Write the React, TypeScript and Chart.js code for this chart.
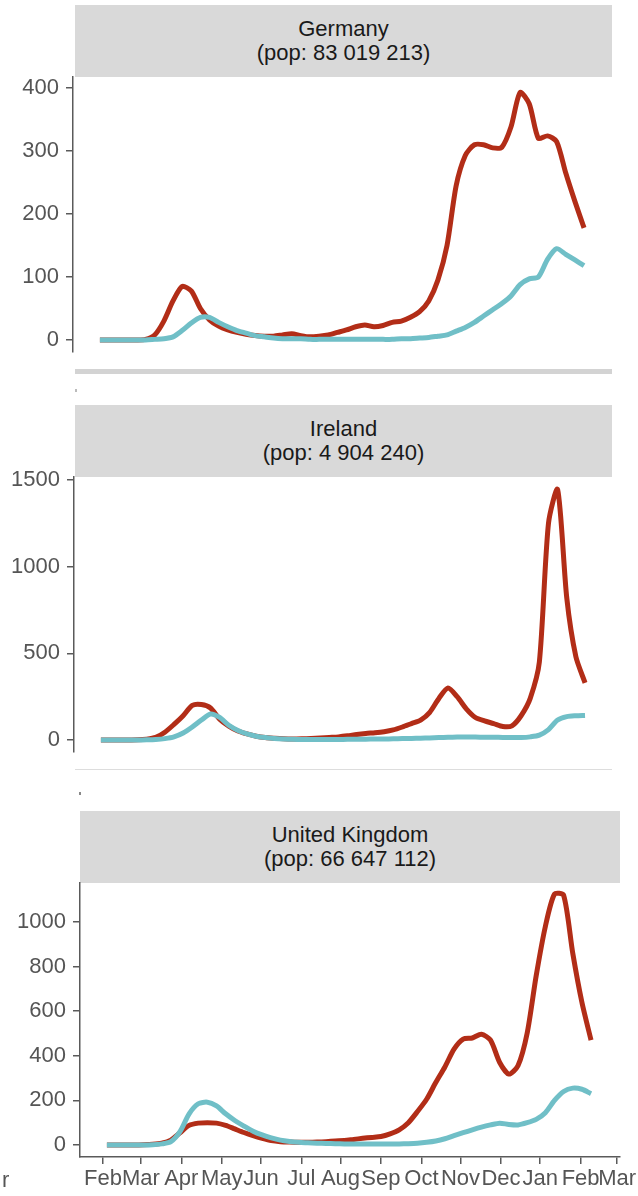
import React, { useEffect, useRef } from "react";
import { Chart, registerables } from "chart.js";

Chart.register(...registerables);

// days since 2020-02-01 of each weekly observation
const weekDays = [
  3, 10, 17, 24, 31, 38, 45, 52, 59, 66, 73, 80, 87, 94, 101, 108, 115, 122,
  129, 136, 143, 150, 157, 164, 171, 178, 185, 192, 199, 206, 213, 220, 227,
  234, 241, 248, 255, 262, 269, 276, 283, 290, 297, 304, 311, 318, 325, 332,
  339, 346, 353, 360, 367, 374,
];

// month starts (days since 2020-02-01) and their labels
const monthTickDays = [0, 29, 60, 91, 121, 152, 182, 213, 244, 274, 305, 335, 366, 394];
const monthLabels = ["Feb", "Mar", "Apr", "May", "Jun", "Jul", "Aug", "Sep", "Oct", "Nov", "Dec", "Jan", "Feb", "Mar"];

const germanyTicks = [0, 100, 200, 300, 400];
const irelandTicks = [0, 500, 1000, 1500];
const ukTicks = [0, 200, 400, 600, 800, 1000];

const germanyRed = [
  0, 0, 0, 0, 0, 1, 8, 30, 62, 85, 78, 50, 32, 22, 16, 12, 9, 7, 6, 6, 8, 10,
  7, 5, 6, 8, 12, 16, 21, 24, 21, 23, 28, 30, 36, 45, 62, 95, 150, 245, 293,
  310, 310, 305, 306, 338, 393, 375, 320, 324, 315, 265, 220, 178,
];
const germanyTeal = [
  0, 0, 0, 0, 0, 0, 1, 2, 5, 15, 27, 36, 36, 28, 21, 15, 11, 7, 5, 3, 2, 2, 2,
  1, 1, 1, 1, 1, 1, 1, 1, 1, 1, 2, 2, 3, 4, 6, 8, 14, 20, 28, 38, 48, 58, 70,
  88, 97, 100, 128, 145, 136, 127, 118,
];

const irelandRed = [
  0, 0, 0, 0, 1, 5, 15, 45, 90, 140, 200, 205, 185, 120, 80, 52, 35, 22, 14,
  10, 7, 6, 7, 9, 12, 15, 18, 24, 32, 38, 42, 48, 58, 75, 95, 115, 160, 240,
  300, 250, 180, 130, 110, 95, 78, 82, 140, 240, 450, 1250, 1445, 820, 480, 330,
];
const irelandTeal = [
  0, 0, 0, 0, 0, 1, 3, 8, 18, 40, 75, 115, 150, 130, 85, 55, 35, 22, 14, 9, 6,
  4, 3, 3, 3, 3, 3, 4, 4, 5, 6, 6, 7, 8, 9, 10, 12, 14, 16, 17, 17, 17, 16, 16,
  15, 14, 14, 18, 28, 60, 115, 135, 140, 142,
];

const ukRed = [
  0, 0, 0, 0, 1, 3, 8, 22, 55, 88, 98, 100, 98, 88, 72, 56, 42, 30, 20, 15, 13,
  12, 12, 13, 15, 18, 20, 25, 30, 34, 38, 50, 68, 100, 150, 205, 280, 350, 430,
  475, 480, 497, 470, 370, 318, 355, 500, 760, 980, 1125, 1120, 860, 640, 470,
];
const ukTeal = [
  0, 0, 0, 0, 0, 1, 5, 15, 60, 140, 185, 192, 175, 140, 110, 85, 62, 45, 32,
  22, 16, 12, 10, 8, 7, 6, 5, 5, 5, 5, 5, 5, 5, 6, 8, 12, 18, 28, 42, 55, 68,
  80, 90, 98, 92, 90, 100, 115, 145, 200, 240, 255, 250, 230,
];

const RED = "#B22D17";
const TEAL = "#70BFC7";
const AXIS = "#5a5a5a";
const TICK_TEXT = "#555555";
const FONT = "'Liberation Sans', Arial, Helvetica, sans-serif";
const TICK_SIZE = 22;
const STRIP_SIZE = 22;

const X_MIN = -17.62;
const X_MAX = 396.2;

type PanelProps = {
  areaTop: number;
  areaBottom: number;
  areaLeft: number;
  areaRight: number;
  yMin: number;
  yMax: number;
  yTicks: number[];
  red: number[];
  teal: number[];
  showX: boolean;
};

const PAD_TOP = 16;
const PAD_BOTTOM_NOX = 16;
const X_AXIS_H = 39;

function Panel(p: PanelProps) {
  const ref = useRef<HTMLCanvasElement>(null);
  const W = 638;
  const canvasTop = p.areaTop - PAD_TOP;
  const bottomExtra = p.showX ? 1196 - p.areaBottom : PAD_BOTTOM_NOX;
  const H = p.areaBottom - canvasTop + bottomExtra;

  useEffect(() => {
    if (!ref.current) return;
    const chart = new Chart(ref.current, {
      type: "line",
      data: {
        datasets: [
          {
            data: weekDays.map((d, i) => ({ x: d, y: p.teal[i] })),
            borderColor: TEAL,
            borderWidth: 5,
            pointRadius: 0,
            tension: 0.25,
            borderCapStyle: "butt",
            borderJoinStyle: "round",
            fill: false,
          },
          {
            data: weekDays.map((d, i) => ({ x: d, y: p.red[i] })),
            borderColor: RED,
            borderWidth: 5,
            pointRadius: 0,
            tension: 0.25,
            borderCapStyle: "butt",
            borderJoinStyle: "round",
            fill: false,
          },
        ],
      },
      options: {
        animation: false,
        responsive: false,
        maintainAspectRatio: false,
        layout: {
          padding: {
            left: 0,
            right: W - p.areaRight,
            top: PAD_TOP,
            bottom: p.showX ? 0 : PAD_BOTTOM_NOX,
          },
        },
        plugins: { legend: { display: false }, tooltip: { enabled: false } },
        scales: {
          x: {
            type: "linear",
            min: X_MIN,
            max: X_MAX,
            display: p.showX,
            afterBuildTicks: (s: any) => {
              s.ticks = monthTickDays.map((v) => ({ value: v }));
            },
            afterFit: (s: any) => {
              if (p.showX) s.height = X_AXIS_H;
              s.paddingLeft = 0;
              s.paddingRight = 0;
            },
            ticks: {
              autoSkip: false,
              maxRotation: 0,
              minRotation: 0,
              padding: 2,
              color: TICK_TEXT,
              font: { family: FONT, size: TICK_SIZE },
              callback: (_v: any, i: number) => monthLabels[i],
            },
            grid: {
              drawOnChartArea: false,
              drawTicks: true,
              tickLength: 7,
              color: AXIS,
              lineWidth: 1.5,
            },
            border: { display: true, color: AXIS, width: 1.5 },
          },
          y: {
            type: "linear",
            min: p.yMin,
            max: p.yMax,
            afterBuildTicks: (s: any) => {
              s.ticks = p.yTicks.map((v) => ({ value: v }));
            },
            afterFit: (s: any) => {
              s.width = p.areaLeft;
              s.paddingTop = 0;
              s.paddingBottom = 0;
            },
            ticks: {
              padding: 7,
              color: TICK_TEXT,
              font: { family: FONT, size: TICK_SIZE },
              callback: (v: any) => String(v),
            },
            grid: {
              drawOnChartArea: false,
              drawTicks: true,
              tickLength: 7,
              color: AXIS,
              lineWidth: 1.5,
            },
            border: { display: true, color: AXIS, width: 1.5 },
          },
        },
      },
    });
    return () => chart.destroy();
  }, []);

  return (
    <canvas
      ref={ref}
      width={W}
      height={H}
      style={{ position: "absolute", left: 0, top: canvasTop, width: W, height: H, display: "block" }}
    />
  );
}

function Strip({ left, top, width, title, pop }: { left: number; top: number; width: number; title: string; pop: string }) {
  return (
    <div
      style={{
        position: "absolute",
        left,
        top,
        width,
        height: 72,
        background: "#D9D9D9",
        color: "#1A1A1A",
        fontFamily: FONT,
        fontSize: STRIP_SIZE,
        lineHeight: "24px",
        textAlign: "center",
        display: "flex",
        flexDirection: "column",
        justifyContent: "center",
      }}
    >
      <div>{title}</div>
      <div>{pop}</div>
    </div>
  );
}

export default function App() {
  return (
    <div style={{ position: "absolute", left: 0, top: 0, width: 638, height: 1196, background: "#fff", overflow: "hidden" }}>
      <Strip left={75} top={5} width={537} title="Germany" pop="(pop: 83 019 213)" />
      <Panel
        areaTop={77}
        areaBottom={352}
        areaLeft={73}
        areaRight={613}
        yMin={-19.05}
        yMax={417.5}
        yTicks={germanyTicks}
        red={germanyRed}
        teal={germanyTeal}
        showX={false}
      />
      <div style={{ position: "absolute", left: 75, top: 369, width: 537, height: 5, background: "#D3D3D3" }} />
      <div style={{ position: "absolute", left: 75, top: 389, width: 2, height: 3, background: "#bbb" }} />

      <Strip left={75} top={405} width={537} title="Ireland" pop="(pop: 4 904 240)" />
      <Panel
        areaTop={477}
        areaBottom={752}
        areaLeft={74}
        areaRight={614}
        yMin={-69.2}
        yMax={1517.3}
        yTicks={irelandTicks}
        red={irelandRed}
        teal={irelandTeal}
        showX={false}
      />
      <div style={{ position: "absolute", left: 75, top: 769, width: 537, height: 1, background: "#DDDDDD" }} />
      <div style={{ position: "absolute", left: 79, top: 792, width: 2, height: 3, background: "#888" }} />

      <Strip left={80} top={811} width={540} title="United Kingdom" pop="(pop: 66 647 112)" />
      <Panel
        areaTop={883}
        areaBottom={1157}
        areaLeft={80}
        areaRight={620}
        yMin={-53.8}
        yMax={1174.9}
        yTicks={ukTicks}
        red={ukRed}
        teal={ukTeal}
        showX={true}
      />
      <div
        style={{
          position: "absolute",
          left: 2,
          top: 1168,
          fontFamily: FONT,
          fontSize: TICK_SIZE,
          color: TICK_TEXT,
          lineHeight: "24px",
        }}
      >
        r
      </div>
    </div>
  );
}
